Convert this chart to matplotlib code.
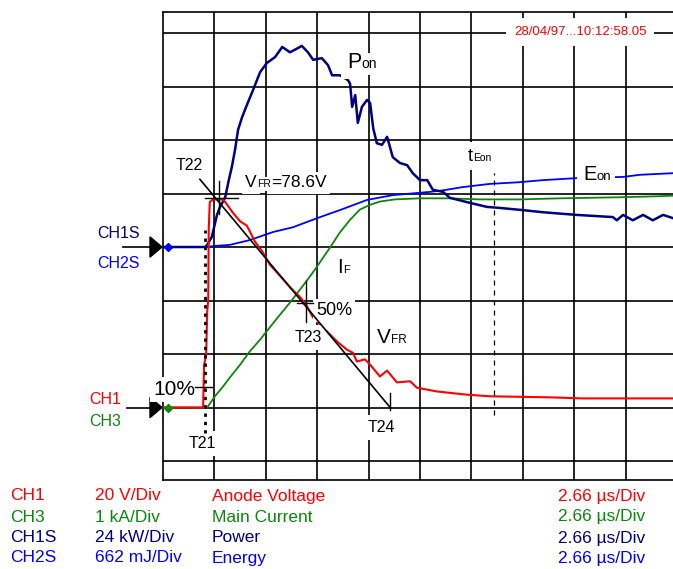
import matplotlib
matplotlib.use("Agg")
import matplotlib.pyplot as plt
from matplotlib.patches import Polygon

# scope screen values, read in divisions (x: time div, y: div above channel ground)
red_t = [0, 0.78, 0.80, 0.84, 0.86, 0.88, 0.89, 0.91, 0.97, 1.17, 1.25, 1.36, 1.50, 1.63, 1.69,
         1.79, 1.93, 2.08, 2.24, 2.37, 2.51, 2.67, 2.78, 2.92, 3.15, 3.39, 3.58, 3.70, 3.77, 3.93,
         4.03, 4.22, 4.36, 4.55, 4.81, 4.94, 5.33, 5.91, 6.36, 7.53, 8.17, 9.92]
red_v = [0, 0, 0.80, 0.99, 1.79, 2.01, 3.33, 3.84, 3.89, 3.89, 3.79, 3.64, 3.48, 3.40, 3.29,
         3.10, 2.92, 2.67, 2.50, 2.36, 2.21, 2.06, 1.93, 1.68, 1.46, 1.23, 1.08, 1.02, 0.86, 0.90,
         0.80, 0.58, 0.69, 0.47, 0.49, 0.37, 0.30, 0.24, 0.21, 0.19, 0.17, 0.17]

green_t = [0, 0.86, 1.01, 1.15, 1.30, 1.50, 1.69, 1.89, 2.08, 2.28, 2.47, 2.67, 2.86, 3.05, 3.25,
           3.44, 3.64, 3.83, 4.03, 4.22, 4.51, 5.00, 5.58, 6.17, 6.95, 7.72, 8.89, 9.67, 9.92]
green_v = [0, 0, 0.21, 0.37, 0.56, 0.80, 1.05, 1.27, 1.50, 1.74, 1.96, 2.21, 2.45, 2.71, 2.99,
           3.27, 3.51, 3.70, 3.79, 3.85, 3.89, 3.91, 3.91, 3.89, 3.89, 3.91, 3.93, 3.95, 3.96]

power_t = [0, 0.82, 0.86, 0.95, 1.05, 1.11, 1.21, 1.28, 1.34, 1.40, 1.46, 1.54, 1.63, 1.75, 1.89,
           2.02, 2.18, 2.32, 2.47, 2.59, 2.70, 2.82, 2.92, 3.09, 3.21, 3.29, 3.44, 3.60, 3.64, 3.68,
           3.74, 3.79, 3.87, 3.97, 4.03, 4.09, 4.16, 4.26, 4.36, 4.47, 4.61, 4.75, 4.86, 5.00, 5.14,
           5.25, 5.45, 5.58, 5.91, 6.30, 6.56, 7.00, 7.39, 8.05, 8.75, 8.83, 8.95, 9.14, 9.34, 9.53,
           9.73, 9.92]
power_v = [0, 0, 0.04, 0.19, 0.60, 0.75, 0.93, 1.25, 1.50, 1.81, 2.19, 2.43, 2.65, 2.93, 3.27,
           3.44, 3.55, 3.74, 3.64, 3.70, 3.76, 3.64, 3.50, 3.53, 3.40, 3.21, 3.21, 3.12, 3.05, 2.62,
           2.84, 2.32, 2.62, 2.75, 2.69, 2.22, 1.94, 1.91, 2.06, 1.68, 1.57, 1.53, 1.38, 1.25, 1.25,
           1.07, 1.03, 0.92, 0.84, 0.75, 0.73, 0.69, 0.65, 0.60, 0.56, 0.50, 0.60, 0.50, 0.60, 0.50,
           0.60, 0.54]

energy_t = [0, 0.82, 1.01, 1.30, 1.69, 2.14, 2.53, 3.00, 3.44, 3.97, 4.47, 5.19, 5.45, 5.83,
            6.36, 6.91, 7.39, 8.09, 8.95, 9.28, 9.92]
energy_v = [0, 0, 0.02, 0.04, 0.13, 0.28, 0.37, 0.54, 0.69, 0.88, 0.97, 1.03, 1.06, 1.12,
            1.18, 1.21, 1.25, 1.29, 1.31, 1.35, 1.38]

# measurement cursors (div)
t21, t22, t23, t24, t_eon = 0.82, 1.07, 2.78, 4.42, 6.44
v22, v23, i10 = 3.86, 1.95, 0.38

ch1_gnd, ch1s_gnd = 1.0, 4.0

RED, GREEN, NAVY, BLUE = "#ff0000", "#0a870a", "#000080", "#0000ff"

rows = [("CH1", "20 V/Div", "Anode Voltage", "2.66 µs/Div", RED),
        ("CH3", "1 kA/Div", "Main Current", "2.66 µs/Div", GREEN),
        ("CH1S", "24 kW/Div", "Power", "2.66 µs/Div", NAVY),
        ("CH2S", "662 mJ/Div", "Energy", "2.66 µs/Div", BLUE)]

plt.rcParams["font.family"] = ["Liberation Sans", "DejaVu Sans"]

W, H = 673, 569
fig = plt.figure(figsize=(W / 100, H / 100), dpi=100)
ax = fig.add_axes([163 / W, 1 - 480 / H, 1 - 163 / W, (480 - 12) / H])
ax.set_xlim(0, (W - 163) / 51.4)
ax.set_ylim(-0.355, 8.393)
ax.set_xticks([])
ax.set_yticks([])
for s in ["left", "top", "bottom"]:
    ax.spines[s].set_linewidth(1.2)
    ax.spines[s].set_zorder(1.5)
ax.spines["right"].set_visible(False)

for i in range(1, 10):
    ax.axvline(i, color="black", lw=1.2, zorder=1)
for j in range(0, 9):
    ax.axhline(j, color="black", lw=1.2, zorder=1)

# traces
ax.plot(energy_t, [ch1s_gnd + v for v in energy_v], color=BLUE, lw=1.3, zorder=3)
ax.plot(green_t, [ch1_gnd + v for v in green_v], color=GREEN, lw=1.3, zorder=3)
ax.plot(power_t, [ch1s_gnd + v for v in power_v], color=NAVY, lw=1.8, zorder=3)
ax.plot(red_t, [ch1_gnd + v for v in red_v], color=RED, lw=1.5, zorder=3)
ax.plot([0.1], [ch1s_gnd], marker="D", ms=4, color=BLUE, zorder=3, clip_on=False)
ax.plot([0.1], [ch1_gnd], marker="D", ms=4, color=GREEN, zorder=3, clip_on=False)

# tangent line T22 -> T24 (extended a bit past T22)
x22, y22 = t22, ch1_gnd + v22
x24, y24 = t24, ch1_gnd
k = -0.105
ax.plot([x22 + k * (x24 - x22), x24], [y22 + k * (y24 - y22), y24], color="black", lw=1.2, zorder=5)

# cursors
ax.plot([x22 - 0.25, x22 + 0.38], [y22 + 0.05, y22 + 0.05], color="black", lw=1.0, zorder=5)
ax.plot([x22 + 0.02, x22 + 0.02], [y22 - 0.25, y22 + 0.38], color="black", lw=1.0, zorder=5)
y23 = ch1_gnd + v23
ax.plot([t23 - 0.18, t23 + 0.14], [y23, y23], color="black", lw=1.0, zorder=5)
ax.plot([t23, t23], [y23 - 0.36, y23 + 0.42], color="black", lw=1.0, zorder=5)
ax.plot([x24, x24], [y24 - 0.04, y24 + 0.28], color="black", lw=1.0, zorder=5)
ax.plot([t21, t21], [0.52, 4.32], color="black", lw=2.0, ls=(0, (1.2, 1.8)), zorder=5)
ax.plot([t21 - 0.2, t21 + 0.13], [ch1_gnd + i10, ch1_gnd + i10], color="black", lw=1.0, zorder=5)
ax.plot([t_eon, t_eon], [0.86, 5.38], color="black", lw=0.9, ls=(0, (4, 4)), zorder=5)

renderer = fig.canvas.get_renderer()


def label(x, y, parts, color="black", pad=0.3):
    # white boxes first, then the text on top, so a subscript box never hides its base letter
    dx = 0
    for s, size in parts:
        bg = ax.annotate(s, (x, y), xytext=(dx, 0), textcoords="offset pixels", fontsize=size,
                         color="none", ha="left", va="baseline", annotation_clip=False, zorder=4,
                         bbox=dict(facecolor="white", edgecolor="none", boxstyle=f"square,pad={pad}"))
        ax.annotate(s, (x, y), xytext=(dx, 0), textcoords="offset pixels", fontsize=size,
                    color=color, ha="left", va="baseline", annotation_clip=False, zorder=4.5)
        dx += bg.get_window_extent(renderer).width


label(0.25, 5.44, [("T22", 11.5)])
label(1.60, 5.12, [("V", 12.5), ("FR", 7.5), ("=78.6V", 12.5)], pad=0.2)
label(3.58, 7.35, [("P", 15.5), ("on", 10)])
label(5.93, 5.61, [("t", 13), ("Eon", 7.5)])
label(8.17, 5.25, [("E", 14.5), ("on", 9.5)])
label(3.39, 3.51, [("I", 14.5), ("F", 8)])
label(2.98, 2.73, [("50%", 13)], pad=0.15)
label(2.57, 2.22, [("T23", 11.5)])
label(4.16, 2.21, [("V", 15), ("FR", 8.5)])
label(-0.19, 1.23, [("10%", 15)], pad=0.15)
label(0.49, 0.24, [("T21", 11.5)])
label(3.99, 0.54, [("T24", 11.5)])
label(6.83, 7.96, [("28/04/97...10:12:58.05", 9.5)], color=RED, pad=0.6)

# channel markers on the left
for gnd, x0 in [(ch1s_gnd, -0.78), (ch1_gnd, -0.70)]:
    ax.plot([x0, -0.25], [gnd, gnd], color="black", lw=1.2, clip_on=False)
    ax.add_patch(Polygon([[-0.253, gnd - 0.19], [-0.253, gnd + 0.19], [-0.02, gnd]],
                         closed=True, color="black", clip_on=False))

fig.text(97 / W, 1 - 233 / H, "CH1S", color=NAVY, fontsize=11.5, va="center")
fig.text(97 / W, 1 - 263 / H, "CH2S", color=BLUE, fontsize=11.5, va="center")
fig.text(89 / W, 1 - 399 / H, "CH1", color=RED, fontsize=11.5, va="center")
fig.text(89 / W, 1 - 421 / H, "CH3", color=GREEN, fontsize=11.5, va="center")

# bottom channel table
row_y = [496, 517, 538, 558]
col_x = [10, 95, 212, 558]
for (ch, scale, name, tb, c), yy in zip(rows, row_y):
    for txt, xx in zip([ch, scale, name, tb], col_x):
        fig.text(xx / W, 1 - yy / H, txt, color=c, fontsize=12.5, va="center")

fig.savefig("out.png", dpi=100)
